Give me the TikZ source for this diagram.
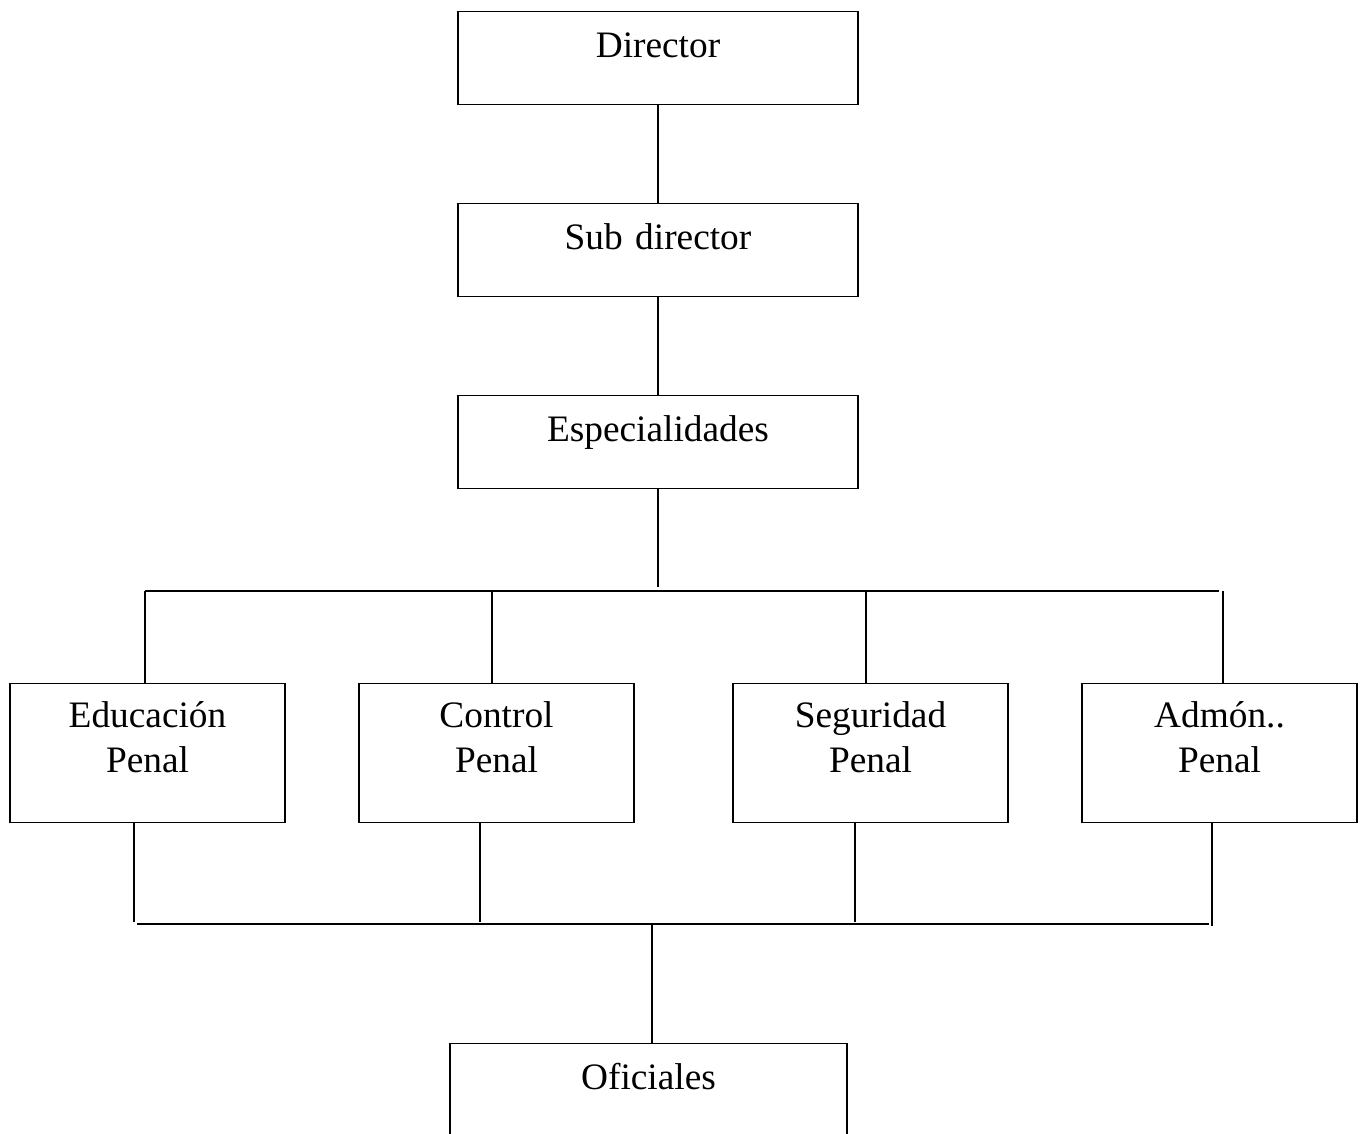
\documentclass[tikz,border=0pt]{standalone}
\usepackage{fontspec}
\setmainfont{Liberation Serif}
\usetikzlibrary{positioning}

\begin{document}
\begin{tikzpicture}[x=0.75pt, y=-0.75pt, line width=1.1pt,
  box/.style={rectangle, draw, anchor=north, inner sep=0pt, align=center, text width=300pt, text height=34.5pt, text depth=35.25pt, font=\fontsize{28}{33.75}\selectfont},
  unit/.style={box, text width=206.25pt, text height=33pt, text depth=71.25pt}]
\useasboundingbox (0,0) rectangle (1360,1134);

\node (dir) [box] at (658,11) {Director};
\node (sub) [box] at (658,203) {Sub director};
\node (esp) [box] at (658,395) {Especialidades};

\node (edu) [unit] at (147.5,683) {Educación\\Penal};
\node (con) [unit] at (496.5,683) {Control\\Penal};
\node (seg) [unit] at (870.5,683) {Seguridad\\Penal};
\node (adm) [unit] at (1219.5,683) {Admón..\\Penal};

\node (ofi) [box, text width=297.75pt] at (648.5,1043) {Oficiales};

\draw (dir) -- (sub);
\draw (sub) -- (esp);

% upper bus
\coordinate (hub) at (658,587);
\coordinate (t1) at (145,591);
\coordinate (t2) at (492,591);
\coordinate (t3) at (866,591);
\coordinate (t4) at (1223,591);
\draw (esp) -- (hub);
\draw (t1) -- (1219,591);
\draw (t1) -- (t1 |- edu.north);
\draw (t2) -- (t2 |- con.north);
\draw (t3) -- (t3 |- seg.north);
\draw (t4) -- (t4 |- adm.north);

% lower bus
\coordinate (b1) at (134,922);
\coordinate (b2) at (480,922);
\coordinate (b3) at (855,922);
\coordinate (b4) at (1212,926);
\coordinate (mid) at (652,924);
\draw (b1 |- edu.south) -- (b1);
\draw (b2 |- con.south) -- (b2);
\draw (b3 |- seg.south) -- (b3);
\draw (b4 |- adm.south) -- (b4);
\draw (137,924) -- (1209,924);
\draw (mid) -- (mid |- ofi.north);
\end{tikzpicture}
\end{document}
